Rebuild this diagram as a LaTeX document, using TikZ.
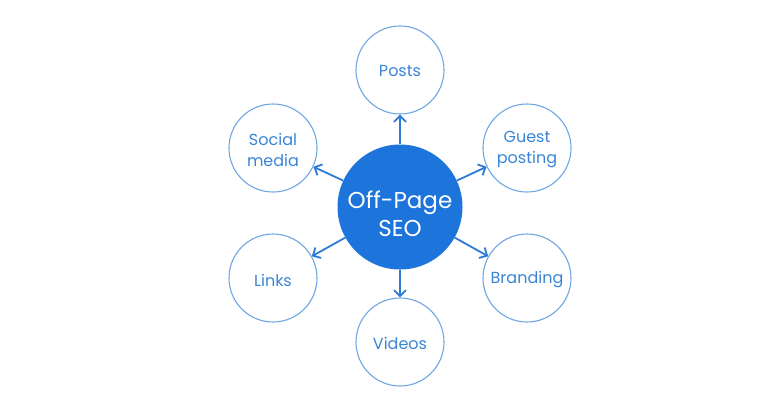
\documentclass[tikz,border=0pt]{standalone}
\usepackage{fontspec}
\setmainfont{Poppins}
\usetikzlibrary{arrows.meta}
\definecolor{mainblue}{HTML}{1D74DA}
\definecolor{ringblue}{HTML}{6FA6E4}
\definecolor{txtblue}{HTML}{3A85D6}
\definecolor{arrowblue}{HTML}{2A7AD6}
\tikzset{
  hub/.style={circle, fill=mainblue, draw=none, minimum size=125pt, inner sep=0pt},
  hubtext/.style={text=white, align=center, font=\fontsize{23}{28}\selectfont},
  leaf/.style={circle, draw=ringblue, line width=1.1pt, fill=white, minimum size=88pt, inner sep=0pt},
  leaftext/.style={text=txtblue, align=center, font=\fontsize{16}{21}\selectfont},
  link/.style={draw=arrowblue, line width=1.8pt, -{Straight Barb[length=6pt,width=12pt]}}
}
\begin{document}
\begin{tikzpicture}[x=1pt,y=-1pt]
\useasboundingbox (0,0) rectangle (768,416);
\node[hub] (c) at (400,207) {};
\node[hubtext] (ct) at (400,214) {Off-Page\\SEO};
\node[leaf] (posts) at (400,70) {};
\node[leaf] (guest) at (527,148) {};
\node[leaf] (social) at (273,148) {};
\node[leaf] (links) at (273,278) {};
\node[leaf] (brand) at (527,278) {};
\node[leaf] (videos) at (400,342) {};
\node[leaftext] (tposts) at (400,71) {Posts};
\node[leaftext] (tguest) at (527,150) {Guest\\posting};
\node[leaftext] (tsocial) at (273,150) {Social\\media};
\node[leaftext] (tlinks) at (273,280) {Links};
\node[leaftext] (tbrand) at (527,280) {Branding};
\node[leaftext] (tvideos) at (400,343) {Videos};
\draw[link] (c) -- (posts);
\draw[link] (c) -- (guest);
\draw[link] (c) -- (social);
\draw[link] (c) -- (links);
\draw[link] (c) -- (brand);
\draw[link] (c) -- (videos);
\end{tikzpicture}
\end{document}
